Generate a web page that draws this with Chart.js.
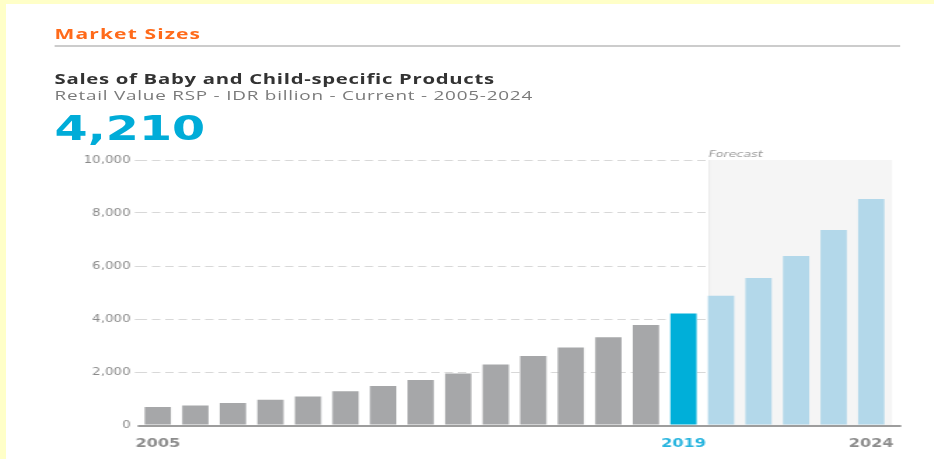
<!DOCTYPE html>
<html>
<head>
<meta charset="utf-8">
<script src="https://cdn.jsdelivr.net/npm/chart.js@4"></script>
<style>
  body { margin: 0; background: #ffffc8; width: 934px; height: 459px; overflow: hidden; position: relative; }
  .panel { position: absolute; left: 6px; top: 4px; right: 0; bottom: 0; background: #fff; }
  .stretch { position: absolute; left: 0; top: 0; width: 667px; height: 459px; transform: scaleX(1.4); transform-origin: 0 0; }
  .txt { position: absolute; white-space: nowrap; }
  .section { left: 39px; top: 26px; font: bold 15px/15px "Open Sans", sans-serif; letter-spacing: 0.8px; color: #ff6a1a; }
  .rule { position: absolute; left: 39px; top: 45px; width: 604px; height: 2px; background: #cccccc; }
  .title { left: 39px; top: 72px; font: bold 14.5px/14.5px "Open Sans", sans-serif; letter-spacing: 0.5px; color: #333; }
  .sub { left: 39px; top: 89px; font: 13.5px/13.5px "Open Sans", sans-serif; letter-spacing: 0.55px; color: #7a7a7a; }
  .big { left: 39px; top: 111px; font: bold 34px/34px "DejaVu Sans", sans-serif; color: #00acd8; }
  .chartbox { position: absolute; left: 0; top: 140px; width: 667px; height: 319px; }
</style>
</head>
<body>
<div class="panel"></div>
<div class="stretch">
  <div class="txt section">Market Sizes</div>
  <div class="rule"></div>
  <div class="txt title">Sales of Baby and Child-specific Products</div>
  <div class="txt sub">Retail Value RSP - IDR billion - Current - 2005-2024</div>
  <div class="txt big">4,210</div>
  <div class="chartbox"><canvas id="chart"></canvas></div>
</div>
<script>
const years = ['2005', '2006', '2007', '2008', '2009', '2010', '2011', '2012', '2013', '2014',
  '2015', '2016', '2017', '2018', '2019', '2020', '2021', '2022', '2023', '2024'];
const sales = [680, 740, 830, 955, 1080, 1270, 1470, 1700, 1940, 2280,
  2600, 2920, 3310, 3770, 4210, 4880, 5550, 6380, 7360, 8530];
const shownYears = ['2005', '2019', '2024'];
const currentYear = '2019';
const firstForecast = 15;
const yTicks = [0, 2000, 4000, 6000, 8000, 10000];

const barColor = i => i < 14 ? '#a6a7a9' : (i === 14 ? '#00afd9' : '#b3d8ea');

// grey box behind the forecast years, plus the bold baseline
const forecastBox = {
  id: 'forecastBox',
  beforeDatasetsDraw: chart => {
    const { ctx, chartArea, scales } = chart;
    const cat = (chartArea.right - chartArea.left) / years.length;
    const x0 = scales.x.getPixelForValue(firstForecast) - cat * 0.33;
    const x1 = chartArea.right + 1.5;
    ctx.save();
    ctx.fillStyle = '#f5f5f5';
    ctx.fillRect(x0, chartArea.top, x1 - x0, chartArea.bottom - chartArea.top);
    ctx.fillStyle = '#ebebeb';
    ctx.fillRect(x0, chartArea.top, 1, chartArea.bottom - chartArea.top);
    ctx.fillStyle = '#9a9a9a';
    ctx.font = 'italic 9px "DejaVu Sans", sans-serif';
    ctx.textBaseline = 'alphabetic';
    ctx.fillText('Forecast', x0, chartArea.top - 3.5);
    ctx.restore();
  },
  afterDatasetsDraw: chart => {
    const { ctx, chartArea, scales } = chart;
    const y0 = scales.y.getPixelForValue(0);
    ctx.save();
    ctx.strokeStyle = '#9d9d9d';
    ctx.lineWidth = 2;
    ctx.beginPath();
    ctx.moveTo(chartArea.left - 1, y0 + 1);
    ctx.lineTo(chartArea.right + 8, y0 + 1);
    ctx.stroke();
    ctx.restore();
  }
};

new Chart(document.getElementById('chart').getContext('2d'), {
  type: 'bar',
  data: {
    labels: years,
    datasets: [{
      data: sales,
      backgroundColor: sales.map((v, i) => barColor(i)),
      borderWidth: 0,
      categoryPercentage: 1,
      barPercentage: 0.7
    }]
  },
  options: {
    responsive: true,
    maintainAspectRatio: false,
    animation: false,
    layout: { padding: { top: 20, right: 31.3, left: 0, bottom: 0 } },
    plugins: { legend: { display: false }, tooltip: { enabled: false } },
    scales: {
      x: {
        grid: { display: false },
        border: { display: false },
        ticks: {
          autoSkip: false,
          maxRotation: 0,
          padding: 4,
          font: { family: 'DejaVu Sans', size: 11.5, weight: 'bold' },
          color: ctx => years[ctx.index] === currentYear ? '#29b5df' : '#8c8c8c',
          callback: (v, i) => shownYears.includes(years[i]) ? years[i] : ''
        },
        afterFit: scale => { scale.height = 34; }
      },
      y: {
        min: 0,
        max: 10000,
        afterBuildTicks: scale => { scale.ticks = yTicks.map(v => ({ value: v })); },
        grid: {
          color: ctx => ctx.tick.value === 0 ? 'rgba(0,0,0,0)' : '#d8d8d8',
          lineWidth: 1,
          drawTicks: true,
          tickLength: 3,
          tickBorderDash: [6, 3.5]
        },
        border: { display: false, dash: [6, 3.5] },
        ticks: {
          padding: 3,
          font: { family: 'DejaVu Sans', size: 9.6 },
          color: '#8a8a8a',
          callback: v => v.toLocaleString('en-US')
        },
        afterFit: scale => { scale.width = 99.3; }
      }
    }
  },
  plugins: [forecastBox]
});
</script>
</body>
</html>
